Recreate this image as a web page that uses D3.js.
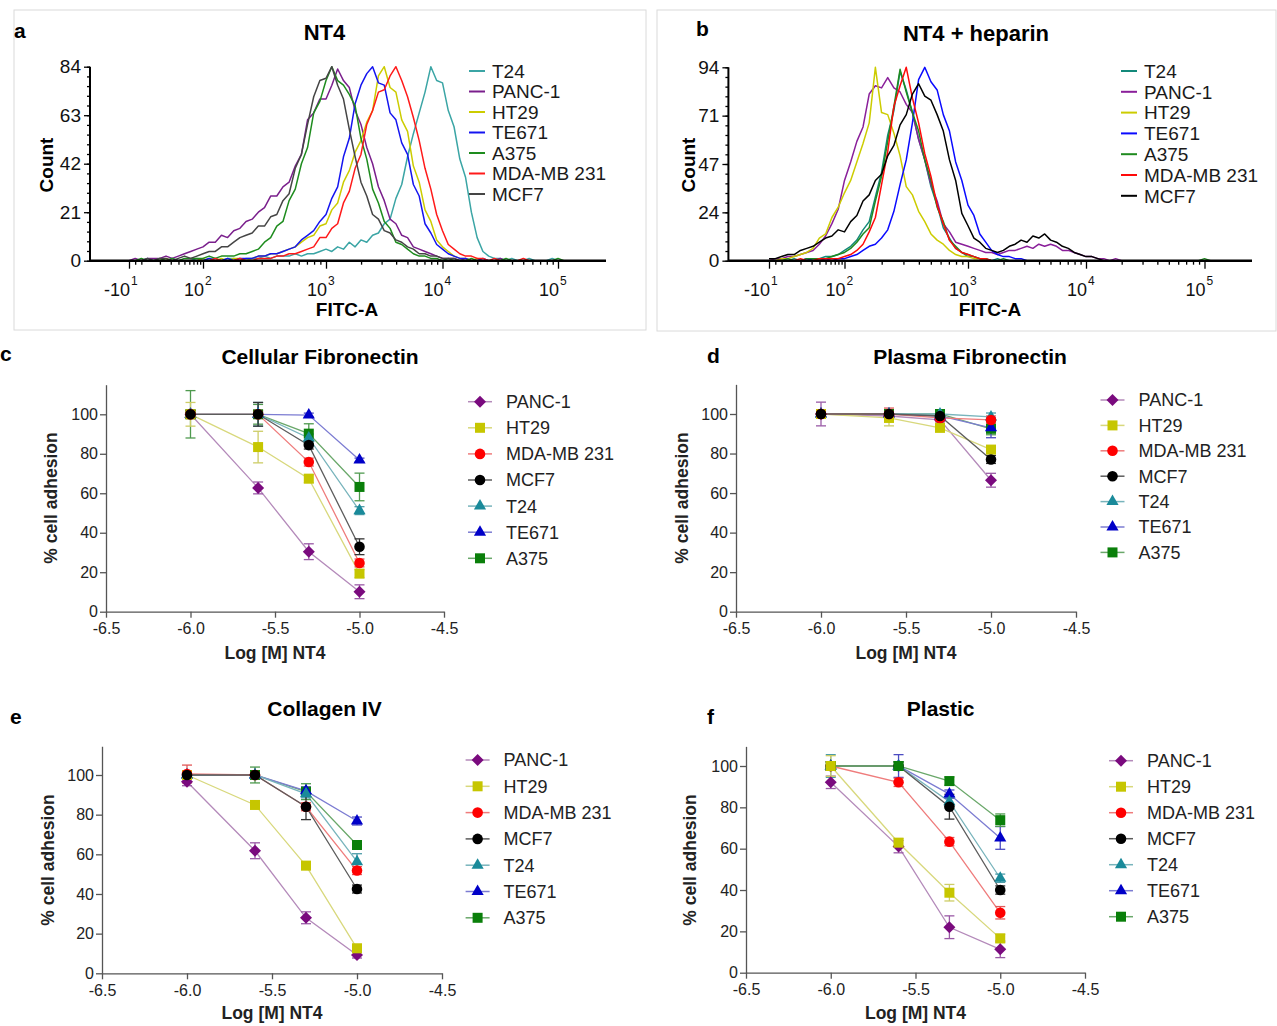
<!DOCTYPE html>
<html>
<head>
<meta charset="utf-8">
<script src="https://cdn.jsdelivr.net/npm/d3@7"></script>
<style>
  body { margin: 0; background: #fff; }
  svg { display: block; font-family: "Liberation Sans", Arial, Helvetica, sans-serif; }
</style>
</head>
<body>
<svg id="fig" width="1277" height="1026"></svg>
<script>
// ===== Flow cytometry (FITC-A histograms) =====
// Counts are binned in display decades of the biexponential FITC axis.
const histStart = 1.40;
const histStep = 0.05;
const histLines = ["T24", "PANC-1", "HT29", "TE671", "A375", "MDA-MB 231", "MCF7"];
const fitcTickDecades = [1.4, 2, 3, 4, 5];
const fitcTickBase = ["-10", "10", "10", "10", "10"];
const fitcTickExp = ["1", "2", "3", "4", "5"];
const nt4CountMax = 84;
const hepCountMax = 94;

// NT4
const nt4_T24   = [0,0,0,1,0,0,0,1,0,0, 0,1,0,1,1,0,1,1,0,1, 1,1,2,1,2,2,2,3,2,3, 3,4,5,4,6,5,8,6,9,8, 11,12,16,18,27,33,45,55,64,73, 84,78,77,65,58,44,36,21,10,4, 2,1,1,0,1,0,0,1,0,0, 0,1,0,0,0];
const nt4_PANC1 = [0,1,0,1,1,1,2,1,2,3, 4,5,6,8,8,11,10,13,14,17, 18,21,23,28,28,32,34,41,46,61, 64,70,70,76,83,78,75,65,59,49, 42,32,26,18,16,11,10,6,5,4, 3,2,1,1,1,0,1,0,0,0, 0,0,1,0,0,0,0,0,0,0, 0,0,0,0,0];
const nt4_HT29  = [0,0,0,0,0,0,1,0,0,0, 0,0,1,0,0,1,0,1,1,0, 1,2,2,3,3,4,5,6,8,10, 11,15,16,22,25,34,39,47,52,60, 65,80,84,75,73,61,56,41,34,22, 17,9,6,4,2,1,1,0,1,0, 0,0,0,0,0,0,0,0,0,0, 0,0,0,0,0];
const nt4_TE671 = [0,0,0,0,0,0,0,0,0,0, 0,0,0,1,0,0,1,0,1,1, 1,2,2,3,3,4,5,6,9,11, 13,17,20,27,32,45,53,68,76,81, 84,77,76,64,61,51,46,33,28,16, 12,7,5,3,2,1,1,0,0,1, 0,0,0,0,0,0,0,0,0,0, 0,0,0,0,0];
const nt4_A375  = [0,0,1,0,0,1,0,1,0,1, 1,1,1,2,1,2,2,2,3,3, 4,5,8,10,15,17,26,31,42,49, 64,69,78,84,78,76,72,67,53,44, 31,25,17,14,8,7,5,3,2,2, 1,1,0,1,0,0,0,1,0,0, 0,0,0,1,0,0,0,0,0,0, 0,0,1,0,0];
const nt4_MDA   = [0,0,0,0,0,0,0,0,0,0, 0,0,0,0,1,0,0,0,1,0, 0,1,1,1,2,2,3,3,4,5, 6,10,10,14,16,25,30,40,46,59, 65,73,74,80,84,78,71,62,52,40, 31,20,13,7,5,3,2,2,1,1, 0,1,0,0,0,0,1,0,0,0, 0,0,0,0,0];
const nt4_MCF7  = [0,0,0,1,0,1,1,0,1,2, 1,2,3,4,4,6,6,8,10,11, 12,15,15,19,20,26,29,40,46,59, 71,78,79,84,76,70,57,45,34,28, 20,18,13,12,9,8,6,5,3,3, 2,2,1,1,1,0,0,0,0,0, 0,0,0,0,0,0,0,0,0,0, 0,0,0,0,0];

// NT4 + heparin
const hep_T24   = [0,0,0,0,1,0,0,1,1,2, 2,3,5,7,10,15,19,31,43,61, 73,92,83,72,59,49,36,27,16,11, 6,4,2,2,1,1,0,1,0,0, 0,0,0,0,0,0,0,0,0,0, 0,0,0,0,0,0,0,0,0,0, 0,0,0,0,0,0,0,0,0,0, 0,0,0,0,0];
const hep_PANC1 = [0,1,1,2,2,3,4,5,8,12, 18,25,39,48,58,65,81,85,84,89, 84,82,76,72,59,49,37,29,18,14, 9,8,7,6,5,4,4,3,4,5, 5,6,7,6,8,7,8,7,5,5, 4,3,2,2,1,1,0,1,0,0, 0,0,0,0,0,0,0,0,0,0, 0,0,0,0,0];
const hep_HT29  = [0,0,1,1,2,3,4,6,11,13, 21,26,33,39,48,57,67,94,72,71, 62,51,36,32,24,19,13,10,8,5, 3,2,2,1,1,0,0,0,0,0, 0,0,0,0,0,0,0,0,0,0, 0,0,0,0,0,0,0,0,0,0, 0,0,0,0,0,0,0,0,0,0, 0,0,0,0,0];
const hep_TE671 = [0,0,0,0,0,0,1,0,0,1, 0,1,1,2,3,5,7,8,11,15, 24,37,49,67,88,94,87,83,71,63, 48,39,27,22,13,9,5,3,2,2, 1,1,0,0,0,0,0,0,0,0, 0,0,0,0,0,0,0,0,0,0, 0,0,0,0,0,0,0,0,0,0, 0,0,0,0,0];
const hep_A375  = [0,0,0,1,0,0,1,1,1,1, 2,3,4,6,9,13,16,29,41,58, 75,93,82,72,63,49,39,26,19,10, 7,4,3,2,1,1,0,0,1,0, 0,0,0,0,0,0,0,0,0,0, 0,0,0,0,0,0,0,0,0,0, 0,0,0,0,0,0,0,0,0,0, 0,0,1,0,0];
const hep_MDA   = [0,0,0,0,0,1,0,0,1,1, 1,1,2,3,5,8,14,21,37,53, 75,85,94,79,67,52,41,27,18,10, 6,4,3,2,1,1,0,0,0,0, 0,0,0,0,0,0,0,0,0,0, 0,0,0,0,0,0,0,0,0,0, 0,0,0,0,0,0,0,0,0,0, 0,0,0,0,0];
const hep_MCF7  = [1,1,2,3,3,5,6,7,9,11, 12,15,14,19,22,29,32,39,42,51, 56,66,71,81,86,80,78,71,63,49, 39,23,17,11,9,6,5,4,5,7, 8,10,9,12,11,13,10,9,7,6, 4,3,2,2,1,0,0,0,0,0, 0,0,0,0,0,0,0,0,0,0, 0,0,0,0,0];

const nt4Colors = ["#3ba5a5", "#7a1f8c", "#cccc00", "#1414f0", "#1e8c1e", "#ff1a1a", "#454545"];
const hepColors = ["#13897a", "#8a1f9a", "#cccc00", "#0a0aff", "#1f8a1f", "#ff0a0a", "#000000"];

// ===== Adhesion assays (% cell adhesion vs log [M] NT4) =====
const doseLogM = [-6.0, -5.6, -5.3, -5.0];
const doseTicks = [-6.5, -6.0, -5.5, -5.0, -4.5];
const adhesionTicks = [0, 20, 40, 60, 80, 100];
const adhesionLines = ["PANC-1", "HT29", "MDA-MB 231", "MCF7", "T24", "TE671", "A375"];

const cellularFnMean = [
  [100, 62.7, 30.4, 10.1],
  [100, 83.4, 67.4, 19.3],
  [100, 100, 75.8, 24.7],
  [100, 100, 84.4, 32.9],
  [100, 100, 88.0, 51.2],
  [100, 100, 99.6, 76.8],
  [100, 100, 90.2, 63.2]
];
const cellularFnSem = [
  [1.5, 3, 4, 3.5],
  [6, 8, 2, 2],
  [2, 2, 2, 2],
  [2, 6, 2, 4],
  [2, 6, 2, 2],
  [1, 1, 1, 1],
  [12, 5, 5, 7]
];
const plasmaFnMean = [
  [100, 99, 97, 66.5],
  [100, 98, 93, 82],
  [100, 100, 98, 97],
  [100, 100, 99, 77],
  [100, 100, 100, 98.5],
  [100, 100, 99, 93],
  [100, 100, 100, 92.5]
];
const plasmaFnSem = [
  [6, 2, 2, 3.5],
  [2, 4, 2, 2],
  [2, 3, 2, 2],
  [2, 2, 2, 2],
  [2, 2, 1, 2],
  [2, 2, 2, 5],
  [2, 2, 2, 3]
];
const collagenMean = [
  [96.6, 61.8, 28.0, 9.2],
  [100, 84.9, 54.3, 12.6],
  [100.5, 100, 84, 51.8],
  [100, 100, 84, 42.5],
  [100, 100, 90.5, 56.3],
  [100, 100, 92, 76.8],
  [100, 100, 91.6, 64.7]
];
const collagenSem = [
  [2, 4, 3, 1.5],
  [2, 2, 2, 2],
  [4.5, 2, 2, 2],
  [2, 2, 6.5, 2],
  [2, 2, 2, 4],
  [2, 2, 2, 2],
  [2, 4, 4, 2]
];
const plasticMean = [
  [92.1, 61.0, 22.0, 11.3],
  [100, 62.9, 38.7, 16.6],
  [100, 92.1, 63.4, 29.0],
  [100, 100, 80.3, 40.0],
  [100, 100, 82.7, 45.7],
  [100, 100, 86.4, 65.2],
  [100, 100, 92.7, 73.8]
];
const plasticSem = [
  [3, 3, 5.5, 4],
  [5, 2, 4, 2],
  [2, 2, 2, 3],
  [2, 2, 6, 2],
  [5.5, 2, 2, 2],
  [2, 5.5, 2, 5.5],
  [2, 2, 2, 3]
];

const markerColors = ["#7a0a7e", "#c6c600", "#ff0000", "#000000", "#1a8a9a", "#0000c8", "#0a7f0a"];
const lineColors   = ["#b48aba", "#d8d87c", "#ef7c7c", "#5c5c5c", "#78b4bc", "#7c7cd2", "#6aa86a"];
const errColors    = ["#9a5aa6", "#cdcd66", "#e25858", "#333333", "#4c9ca8", "#4c4cc2", "#4f9a4f"];
const markerShapes = ["diamond", "square", "circle", "circle", "triangle", "triangle", "square"];

const svg = d3.select("#fig");

// ---------- histogram panel ----------
function drawHistogram(p) {
  const g = svg.append("g");
  g.append("rect")
    .attr("x", p.frame[0]).attr("y", p.frame[1])
    .attr("width", p.frame[2]).attr("height", p.frame[3])
    .attr("fill", "none").attr("stroke", "#dadada").attr("stroke-width", 1);

  const x = d3.scaleLinear().domain(fitcTickDecades).range(p.xStops);
  const y = d3.scaleLinear().domain([0, p.yMax]).range([p.y0, p.yTop]);

  // minor tick positions along the FITC axis
  const minor = [1.45, 1.5];
  d3.range(2, 10).forEach(m => minor.push(1.5 + 0.5 * Math.log10(m)));
  [2, 3, 4].forEach(k => d3.range(2, 10).forEach(m => minor.push(k + Math.log10(m))));

  // curves
  const line = d3.line()
    .x((c, i) => x(histStart + i * histStep))
    .y(c => y(c));
  p.counts.forEach((arr, k) => {
    g.append("path").attr("d", line(arr))
      .attr("fill", "none").attr("stroke", p.colors[k])
      .attr("stroke-width", 1.5).attr("stroke-linejoin", "round");
  });

  // x axis
  const xMinor = g.append("g").attr("transform", `translate(0,${p.y0})`)
    .call(d3.axisBottom(x).tickValues(minor).tickSize(4).tickFormat(""));
  const xMajor = g.append("g").attr("transform", `translate(0,${p.y0})`)
    .call(d3.axisBottom(x).tickValues(fitcTickDecades).tickSize(8).tickFormat(""));
  [xMinor, xMajor].forEach(a => {
    a.select(".domain").remove();
    a.selectAll("line").attr("stroke", "#000").attr("stroke-width", 1.3);
  });
  g.append("line").attr("x1", p.axisX).attr("x2", p.xEnd)
    .attr("y1", p.y0).attr("y2", p.y0)
    .attr("stroke", "#000").attr("stroke-width", 2.6);

  fitcTickDecades.forEach((d, i) => {
    const tx = x(d);
    g.append("text").attr("x", tx + 1).attr("y", p.y0 + 35)
      .attr("text-anchor", "end").attr("font-size", 18).attr("fill", "#111")
      .text(fitcTickBase[i]);
    g.append("text").attr("x", tx + 2).attr("y", p.y0 + 24)
      .attr("text-anchor", "start").attr("font-size", 12).attr("fill", "#111")
      .text(fitcTickExp[i]);
  });

  // y axis
  const yMinor = d3.range(0, 21).map(i => p.yMax * i / 20);
  const yMajor = d3.range(0, 5).map(i => p.yMax * i / 4);
  const yMin = g.append("g").attr("transform", `translate(${p.axisX},0)`)
    .call(d3.axisLeft(y).tickValues(yMinor).tickSize(3).tickFormat(""));
  const yMaj = g.append("g").attr("transform", `translate(${p.axisX},0)`)
    .call(d3.axisLeft(y).tickValues(yMajor).tickSize(6).tickPadding(3)
      .tickFormat(v => v.toFixed(0)));
  [yMin, yMaj].forEach(a => {
    a.attr("font-family", null).attr("font-size", null);
    a.select(".domain").remove();
    a.selectAll("line").attr("stroke", "#000").attr("stroke-width", 1.3);
  });
  yMaj.selectAll("text").attr("font-size", 19).attr("fill", "#111");
  g.append("line").attr("x1", p.axisX).attr("x2", p.axisX)
    .attr("y1", p.y0 + 1).attr("y2", p.yTop)
    .attr("stroke", "#000").attr("stroke-width", 2);

  // labels
  g.append("text").attr("x", p.letter[0]).attr("y", p.letter[1])
    .attr("font-size", 21).attr("font-weight", "bold").text(p.letterText);
  g.append("text").attr("x", p.title[0]).attr("y", p.title[1])
    .attr("text-anchor", "middle").attr("font-size", 22).attr("font-weight", "bold")
    .text(p.titleText);
  g.append("text").attr("x", p.xLabel[0]).attr("y", p.xLabel[1])
    .attr("text-anchor", "middle").attr("font-size", 19).attr("font-weight", "bold")
    .text("FITC-A");
  g.append("text")
    .attr("transform", `translate(${p.yLabel[0]},${p.yLabel[1]}) rotate(-90)`)
    .attr("text-anchor", "middle").attr("dy", "0.35em")
    .attr("font-size", 19).attr("font-weight", "bold").text("Count");

  // legend
  histLines.forEach((name, k) => {
    const ly = p.legend[1] + k * p.legendDy;
    g.append("line").attr("x1", p.legend[0]).attr("x2", p.legend[0] + 16)
      .attr("y1", ly).attr("y2", ly)
      .attr("stroke", p.colors[k]).attr("stroke-width", 2);
    g.append("text").attr("x", p.legend[0] + 23).attr("y", ly).attr("dy", "0.36em")
      .attr("font-size", 19).attr("fill", "#1a1a1a").text(name);
  });
}

// ---------- dose-response panel ----------
function markerPath(shape) {
  if (shape === "diamond") return d3.symbol(d3.symbolSquare, 72)();
  if (shape === "square") return d3.symbol(d3.symbolSquare, 100)();
  if (shape === "circle") return d3.symbol(d3.symbolCircle, 88)();
  return d3.symbol(d3.symbolTriangle, 64)();
}
function drawMarker(g, cx, cy, k) {
  const shape = markerShapes[k];
  g.append("path").attr("d", markerPath(shape))
    .attr("transform", `translate(${cx},${cy})` + (shape === "diamond" ? " rotate(45)" : ""))
    .attr("fill", markerColors[k]);
}

function drawDose(p) {
  const g = svg.append("g");
  const x = d3.scaleLinear().domain([doseTicks[0], doseTicks[doseTicks.length - 1]]).range([p.x0, p.x1]);
  const y = d3.scaleLinear().domain([0, 100]).range([p.y0, p.y100]);
  const yAxisScale = d3.scaleLinear().domain([0, p.yEnd]).range([p.y0, y(p.yEnd)]);

  const xa = g.append("g").attr("transform", `translate(0,${p.y0})`)
    .call(d3.axisBottom(x).tickValues(doseTicks).tickSize(6).tickSizeOuter(0).tickPadding(5)
      .tickFormat(v => v.toFixed(1)));
  const ya = g.append("g").attr("transform", `translate(${p.x0},0)`)
    .call(d3.axisLeft(yAxisScale).tickValues(adhesionTicks).tickSize(6).tickSizeOuter(0).tickPadding(2)
      .tickFormat(v => String(v)));
  [xa, ya].forEach(a => {
    a.attr("font-family", null).attr("font-size", null);
    a.select(".domain").attr("stroke", "#555").attr("stroke-width", 1.3);
    a.selectAll(".tick line").attr("stroke", "#555").attr("stroke-width", 1.3);
    a.selectAll("text").attr("font-size", 16).attr("fill", "#222");
  });

  const line = d3.line().x((v, i) => x(doseLogM[i])).y(v => y(v));
  p.order.forEach(k => {
    g.append("path").attr("d", line(p.mean[k]))
      .attr("fill", "none").attr("stroke", lineColors[k]).attr("stroke-width", 1.3);
  });
  p.order.forEach(k => {
    p.mean[k].forEach((v, i) => {
      const e = p.sem[k][i];
      const cx = x(doseLogM[i]);
      const eg = g.append("g").attr("stroke", errColors[k]).attr("stroke-width", 1.3);
      eg.append("line").attr("x1", cx).attr("x2", cx).attr("y1", y(v - e)).attr("y2", y(v + e));
      eg.append("line").attr("x1", cx - 5).attr("x2", cx + 5).attr("y1", y(v - e)).attr("y2", y(v - e));
      eg.append("line").attr("x1", cx - 5).attr("x2", cx + 5).attr("y1", y(v + e)).attr("y2", y(v + e));
    });
  });
  p.order.forEach(k => {
    p.mean[k].forEach((v, i) => drawMarker(g, x(doseLogM[i]), y(v), k));
  });

  // titles and axis labels
  g.append("text").attr("x", p.letter[0]).attr("y", p.letter[1])
    .attr("font-size", 21).attr("font-weight", "bold").text(p.letterText);
  g.append("text").attr("x", p.title[0]).attr("y", p.title[1])
    .attr("text-anchor", "middle").attr("font-size", 21).attr("font-weight", "bold")
    .text(p.titleText);
  g.append("text").attr("x", (p.x0 + p.x1) / 2).attr("y", p.xLabelY)
    .attr("text-anchor", "middle").attr("font-size", 17.5).attr("font-weight", "bold")
    .attr("fill", "#222").text("Log [M] NT4");
  g.append("text")
    .attr("transform", `translate(${p.yLabelX},${p.yLabelMid}) rotate(-90)`)
    .attr("text-anchor", "middle").attr("dy", "0.35em")
    .attr("font-size", 17.5).attr("font-weight", "bold").attr("fill", "#222")
    .text("% cell adhesion");

  // legend
  adhesionLines.forEach((name, k) => {
    const ly = p.legend[1] + k * p.legendDy;
    g.append("line").attr("x1", p.legend[0] - 12).attr("x2", p.legend[0] + 12)
      .attr("y1", ly).attr("y2", ly).attr("stroke", lineColors[k]).attr("stroke-width", 1.5);
    drawMarker(g, p.legend[0], ly, k);
    g.append("text").attr("x", p.legend[0] + 26).attr("y", ly).attr("dy", "0.36em")
      .attr("font-size", 18).attr("fill", "#222").text(name);
  });
}

// ---------- assemble figure ----------
drawHistogram({
  frame: [14, 10, 632, 320], axisX: 90, xEnd: 606, y0: 260.7, yTop: 66.7,
  xStops: [129, 203, 326, 442.5, 558], yMax: nt4CountMax,
  counts: [nt4_T24, nt4_PANC1, nt4_HT29, nt4_TE671, nt4_A375, nt4_MDA, nt4_MCF7],
  colors: nt4Colors,
  letter: [14, 38], letterText: "a", title: [324.5, 40], titleText: "NT4",
  xLabel: [347, 316], yLabel: [46, 165], legend: [469, 71], legendDy: 20.5
});
drawHistogram({
  frame: [657, 10, 619, 321], axisX: 728.4, xEnd: 1252, y0: 260.7, yTop: 67.3,
  xStops: [769, 844.5, 968, 1086, 1204.5], yMax: hepCountMax,
  counts: [hep_T24, hep_PANC1, hep_HT29, hep_TE671, hep_A375, hep_MDA, hep_MCF7],
  colors: hepColors,
  letter: [696, 36], letterText: "b", title: [976, 41], titleText: "NT4 + heparin",
  xLabel: [990, 316], yLabel: [688, 165], legend: [1121, 71], legendDy: 20.8
});

drawDose({
  x0: 106, x1: 444, y0: 611.7, y100: 414.3, yEnd: 115,
  mean: cellularFnMean, sem: cellularFnSem, order: [6, 5, 4, 0, 1, 2, 3],
  letter: [0, 361], letterText: "c", title: [320, 364], titleText: "Cellular Fibronectin",
  xLabelY: 659, yLabelX: 51, yLabelMid: 498, legend: [480, 401.7], legendDy: 26.1
});
drawDose({
  x0: 736, x1: 1076, y0: 611.7, y100: 414, yEnd: 115,
  mean: plasmaFnMean, sem: plasmaFnSem, order: [6, 5, 4, 0, 1, 2, 3],
  letter: [707, 363], letterText: "d", title: [970, 364], titleText: "Plasma Fibronectin",
  xLabelY: 659, yLabelX: 682, yLabelMid: 498, legend: [1112.5, 400], legendDy: 25.4
});
drawDose({
  x0: 102, x1: 442, y0: 973.3, y100: 775, yEnd: 114.5,
  mean: collagenMean, sem: collagenSem, order: [6, 5, 4, 0, 1, 2, 3],
  letter: [10, 724], letterText: "e", title: [324.5, 716], titleText: "Collagen IV",
  xLabelY: 1019, yLabelX: 48, yLabelMid: 860, legend: [477.6, 760], legendDy: 26.3
});
drawDose({
  x0: 746, x1: 1085, y0: 972.7, y100: 766, yEnd: 109.5,
  mean: plasticMean, sem: plasticSem, order: [5, 4, 0, 2, 3, 6, 1],
  letter: [707, 724], letterText: "f", title: [940.7, 716], titleText: "Plastic",
  xLabelY: 1019, yLabelX: 690, yLabelMid: 860, legend: [1121, 760.7], legendDy: 26
});
</script>
</body>
</html>
